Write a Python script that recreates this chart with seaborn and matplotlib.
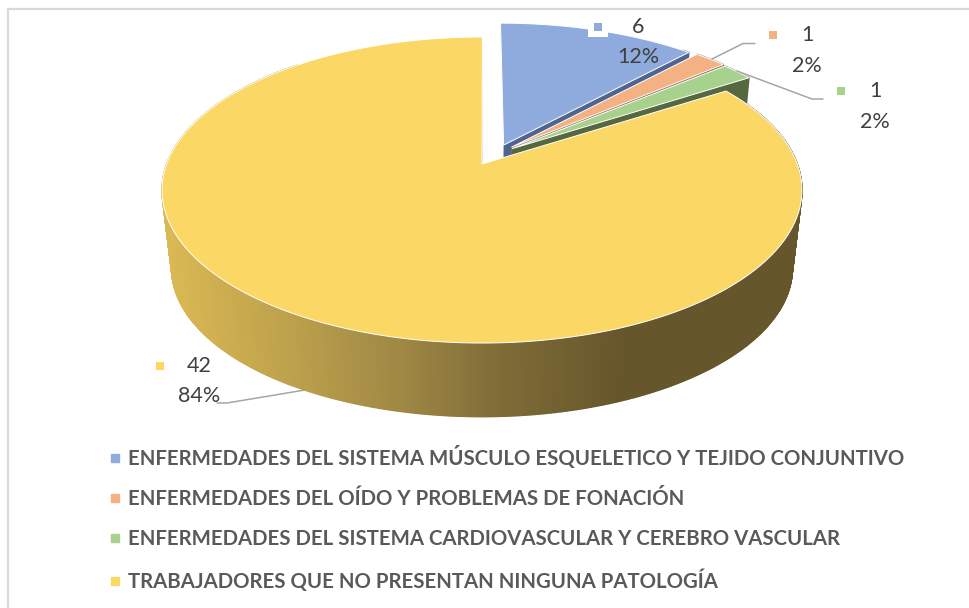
import numpy as np
import matplotlib
matplotlib.use('Agg')
import matplotlib.pyplot as plt
from matplotlib.collections import PolyCollection
from matplotlib.lines import Line2D
from matplotlib.colors import to_rgb
import seaborn as sns

# data
categories = ['ENFERMEDADES DEL SISTEMA MÚSCULO ESQUELETICO Y TEJIDO CONJUNTIVO',
              'ENFERMEDADES DEL OÍDO Y PROBLEMAS DE FONACIÓN',
              'ENFERMEDADES DEL SISTEMA CARDIOVASCULAR Y CEREBRO VASCULAR',
              'TRABAJADORES QUE NO PRESENTAN NINGUNA PATOLOGÍA']
values = [6, 1, 1, 42]

# how far each slice is pulled out of the pie (sideways, backwards)
explode = [(0.07, 0.13), (0.095, 0.115), (0.097, 0.105), (0.0, 0.0)]
top_colors = sns.color_palette(['#8FAADC', '#F4B183', '#A9D18E', '#FBD766'])
wall_colors = ['#4F6490', '#8F6B4C', '#56683F', '#66562B']

sns.set_theme(style='white')
plt.rcParams['font.family'] = ['Lato', 'DejaVu Sans']

# pie "camera"
cx, apex_y, base_y = 482, 164, 243
A, B, k = 315.3, 148.6, 0.17
shrink = 0.97


def project(u, v, bottom=False):
    w = 1 + k * v
    if bottom:
        return cx + shrink * A * u / w, base_y - shrink * B * v / w
    return cx + A * u / w, apex_y - B * v / w


def wall_color(x, c):
    if c != '#66562B':
        return to_rgb(c)
    # yellow front wall has the light to dark gradient
    xs = [165, 300, 400, 500, 620, 810]
    stops = np.array([to_rgb(s) for s in ['#DBB954', '#BB9F4B', '#A08845', '#7F6C37', '#66562B', '#66562B']])
    return tuple(np.interp(x, xs, stops[:, i]) for i in range(3))


fig = plt.figure(figsize=(9.69, 6.08), dpi=100)
ax = fig.add_axes([0, 0, 1, 1])
ax.set_xlim(0, 969)
ax.set_ylim(608, 0)
ax.axis('off')

# frame of the pasted picture
ax.plot([8.5, 8.5, 980], [620, 8.5, 8.5], color='#D9D9D9', lw=1.6, zorder=0)

start = 0
total = sum(values)
for i, val in enumerate(values):
    end = start + val / total * 360
    t = np.radians(np.arange(start, end + 0.25, 0.5))
    du, dv = explode[i]
    u, v = np.sin(t) + du, np.cos(t) + dv
    tx, ty = project(u, v)
    bx, by = project(u, v, bottom=True)
    apx, apy = project(du, dv)
    abx, aby = project(du, dv, bottom=True)

    # outer wall, only the part turned to the viewer
    quads, cols = [], []
    for j in range(len(u) - 1):
        if np.cos(t[j]) > 0.75:
            continue
        quads.append([(tx[j], ty[j]), (tx[j + 1], ty[j + 1]), (bx[j + 1], by[j + 1]), (bx[j], by[j])])
        cols.append(wall_color((tx[j] + bx[j]) / 2, wall_colors[i]))
    ax.add_collection(PolyCollection(quads, facecolors=cols, edgecolors=cols, linewidths=1.0, zorder=2 + i * 2))

    # cut face at the end of the slice
    ax.fill([apx, tx[-1], bx[-1], abx], [apy, ty[-1], by[-1], aby],
            color=wall_colors[i], lw=0, zorder=2 + i * 2)

    # top face
    ax.fill(np.r_[apx, tx], np.r_[apy, ty], facecolor=top_colors[i], edgecolor='white',
            lw=0.7, zorder=3 + i * 2)
    start = end

# leader lines
leader = '#A6A6A6'
ax.plot([712, 743, 755], [59, 43.5, 43.5], color=leader, lw=1.1, zorder=12)
ax.plot([737, 812, 823], [71, 99, 99], color=leader, lw=1.1, zorder=12)
ax.plot([217, 227, 305], [403, 403, 390], color=leader, lw=1.1, zorder=1)

# data labels
label_pos = [(638, 27, 57, 598), (807, 35, 66, 773), (875, 91, 122, 841), (199, 366, 396, 160)]
for i, (x, y1, y2, kx) in enumerate(label_pos):
    ky = y1 - 0.5
    if i == 0:
        ax.scatter([kx], [ky], marker='s', s=190, color='white', zorder=13, linewidths=0)
    ax.scatter([kx], [ky], marker='s', s=30, color=top_colors[i], zorder=14, linewidths=0)
    ax.text(x, y1, str(values[i]), ha='center', va='center', fontsize=15.5, color='#404040', zorder=14)
    ax.text(x, y2, f'{values[i] / total:.0%}', ha='center', va='center', fontsize=15.5, color='#404040', zorder=14)

# legend
handles = [Line2D([], [], linestyle='none', marker='s', markersize=5.8, color=c) for c in top_colors]
leg = ax.legend(handles, categories, loc='upper left', bbox_to_anchor=(0.111, 0.267), frameon=False,
                prop={'family': ['Lato', 'DejaVu Sans'], 'weight': 'bold', 'size': 14.63},
                labelcolor='#595959', labelspacing=1.0, handlelength=0.7, handletextpad=0.33,
                borderpad=0, borderaxespad=0)
leg.set_zorder(15)

plt.savefig('out.png', dpi=100)
